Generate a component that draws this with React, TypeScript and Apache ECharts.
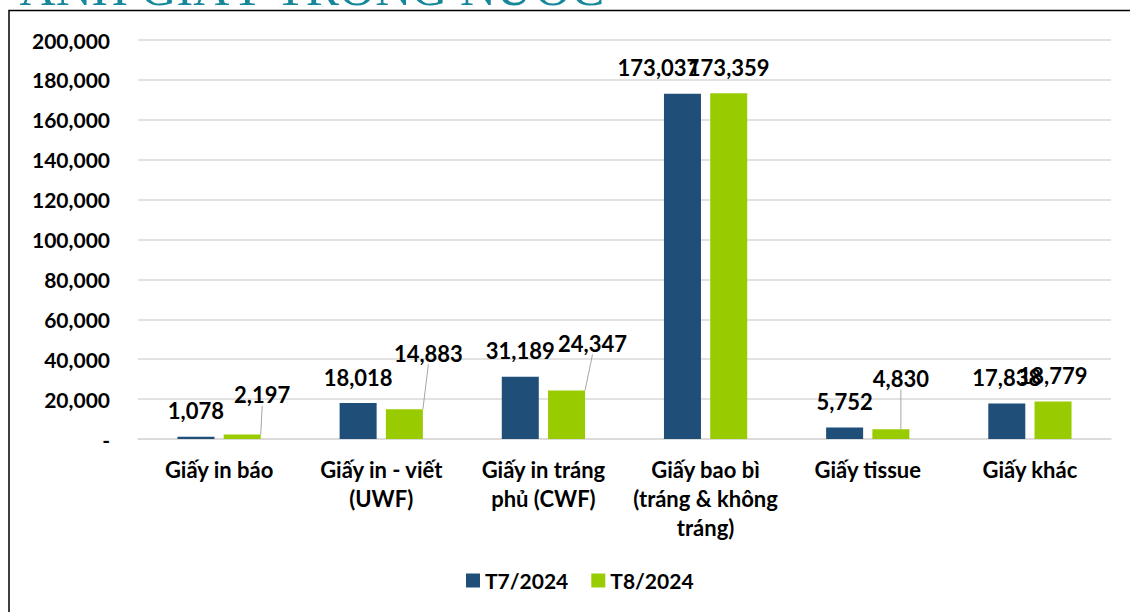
import React, { useEffect, useRef } from 'react';
import * as echarts from 'echarts';

const titleText = 'ANH GIẤY TRONG NƯỚC';
const categories = [
  'Giấy in báo',
  'Giấy in - viết\n(UWF)',
  'Giấy in tráng\nphủ (CWF)',
  'Giấy bao bì\n(tráng & không\ntráng)',
  'Giấy tissue',
  'Giấy khác',
];
const seriesNames = ['T7/2024', 'T8/2024'];
const t7Values = [1078, 18018, 31189, 173037, 5752, 17838];
const t8Values = [2197, 14883, 24347, 173359, 4830, 18779];
const yMax = 200000;
const yInterval = 20000;

// label placement tweaks (pixels), per category index
const t7LabelShift: Record<number, [number, number]> = { 3: [-24, 0] };
const t8LabelShift: Record<number, [number, number]> = { 5: [19, 0] };
const t8LeaderMove: Record<number, [number, number]> = {
  0: [20, -14],
  1: [24, -30],
  2: [26, -21],
  4: [10, -25],
};

const FONT = 'Lato';
const fmt = (v: number) => v.toLocaleString('en-US');

export default function App() {
  const ref = useRef<HTMLDivElement>(null);
  useEffect(() => {
    if (!ref.current) return;
    const chart = echarts.init(ref.current, null, { renderer: 'svg' });
    const labelBase = {
      show: true,
      position: 'top',
      distance: 15,
      fontFamily: FONT,
      fontWeight: 'bold',
      fontSize: 22,
      color: '#000',
      formatter: (p: any) => fmt(p.value),
    };
    chart.setOption({
      animation: false,
      backgroundColor: '#fff',
      textStyle: { fontFamily: FONT },
      graphic: [
        {
          type: 'text',
          right: 1130 - 607,
          top: -37,
          style: {
            text: titleText,
            fill: '#17889b',
            font: '50px "Liberation Serif", "DejaVu Serif", serif',
          },
          z: 10,
        },
        {
          type: 'rect',
          shape: { x: 9, y: 10.5, width: 1300, height: 800 },
          style: { fill: 'none', stroke: '#000', lineWidth: 1.5 },
          silent: true,
          z: 10,
        },
      ],
      grid: { left: 138, right: 19, top: 40, bottom: 173, containLabel: false },
      legend: {
        data: seriesNames,
        left: 461,
        top: 565,
        icon: 'rect',
        itemWidth: 14,
        itemHeight: 14,
        itemGap: 23,
        textStyle: { fontFamily: FONT, fontWeight: 'bold', fontSize: 21, color: '#000' },
      },
      xAxis: {
        type: 'category',
        data: categories,
        axisLine: { show: true, lineStyle: { color: '#d9d9d9', width: 1.5 } },
        axisTick: { show: false },
        axisLabel: {
          interval: 0,
          margin: 16,
          fontFamily: FONT,
          fontWeight: 'bold',
          fontSize: 22,
          lineHeight: 29,
          color: '#000',
        },
      },
      yAxis: {
        type: 'value',
        min: 0,
        max: yMax,
        interval: yInterval,
        axisLine: { show: false },
        axisTick: { show: false },
        splitLine: { lineStyle: { color: '#d9d9d9', width: 1.5 } },
        axisLabel: {
          margin: 28,
          fontFamily: FONT,
          fontWeight: 'bold',
          fontSize: 21,
          color: '#000',
          formatter: (v: number) => (v === 0 ? '-' : fmt(v)),
        },
      },
      series: [
        {
          name: seriesNames[0],
          type: 'bar',
          barWidth: 37,
          barGap: '25%',
          itemStyle: { color: '#1f4e79' },
          label: labelBase,
          data: t7Values.map((v, i) =>
            t7LabelShift[i] ? { value: v, label: { offset: t7LabelShift[i] } } : v
          ),
        },
        {
          name: seriesNames[1],
          type: 'bar',
          barWidth: 37,
          barGap: '25%',
          itemStyle: { color: '#99cc00' },
          label: labelBase,
          labelLine: { show: false, lineStyle: { color: '#a6a6a6', width: 1 } },
          labelLayout: (p: any) => {
            const m = t8LeaderMove[p.dataIndex];
            return m ? { dx: m[0], dy: m[1] } : {};
          },
          data: t8Values.map((v, i) => {
            if (t8LabelShift[i]) return { value: v, label: { offset: t8LabelShift[i] } };
            if (t8LeaderMove[i])
              return { value: v, labelLine: { show: true, lineStyle: { color: '#a6a6a6', width: 1 } } };
            return v;
          }),
        },
      ],
    });
    return () => chart.dispose();
  }, []);
  return (
    <div
      ref={ref}
      style={{ position: 'fixed', left: 0, top: 0, width: 1130, height: 612, background: '#fff' }}
    />
  );
}
